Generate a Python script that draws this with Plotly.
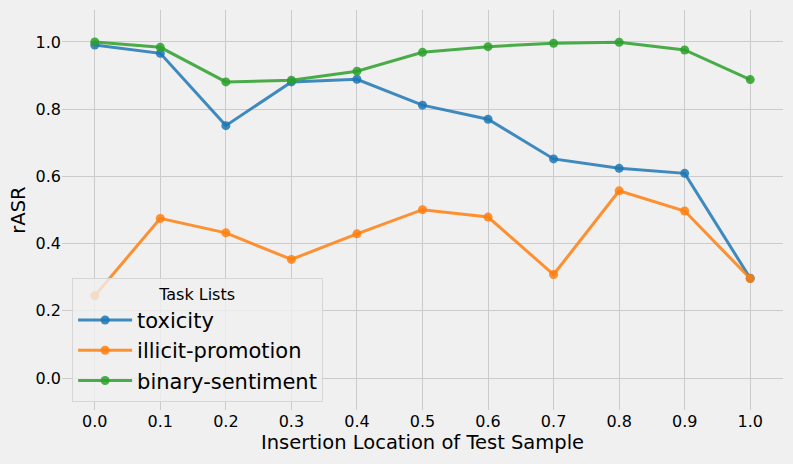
import plotly.graph_objects as go

x_vals = [0.0, 0.1, 0.2, 0.3, 0.4, 0.5, 0.6, 0.7, 0.8, 0.9, 1.0]
toxicity = [0.991, 0.966, 0.751, 0.881, 0.889, 0.812, 0.770, 0.652, 0.624, 0.609, 0.297]
illicit_promotion = [0.245, 0.475, 0.432, 0.353, 0.429, 0.501, 0.479, 0.308, 0.557, 0.497, 0.296]
binary_sentiment = [1.0, 0.984, 0.881, 0.886, 0.913, 0.969, 0.986, 0.996, 0.999, 0.976, 0.888]
x_ticks = [0.0, 0.1, 0.2, 0.3, 0.4, 0.5, 0.6, 0.7, 0.8, 0.9, 1.0]
y_ticks = [0.0, 0.2, 0.4, 0.6, 0.8, 1.0]

series = [
    ("toxicity", toxicity, "rgba(31,119,180,0.85)"),
    ("illicit-promotion", illicit_promotion, "rgba(255,127,14,0.85)"),
    ("binary-sentiment", binary_sentiment, "rgba(44,160,44,0.85)"),
]

fig = go.Figure()
for name, vals, col in series:
    fig.add_trace(go.Scatter(
        x=x_vals, y=vals, name=name, mode="lines+markers",
        line=dict(color=col, width=3),
        marker=dict(color=col, size=9),
    ))

font = "DejaVu Sans, Liberation Sans, sans-serif"
fig.update_layout(
    width=793, height=464,
    margin=dict(l=62, r=10, t=10, b=54),
    paper_bgcolor="#f0f0f0", plot_bgcolor="#f0f0f0",
    font=dict(family=font, size=16, color="#000000"),
    showlegend=True,
    legend=dict(
        title=dict(text="Task Lists", side="top center", font=dict(size=16)),
        font=dict(size=21),
        x=0.014, y=0.02, xanchor="left", yanchor="bottom",
        bgcolor="rgba(240,240,240,0.8)", bordercolor="#d6d6d6", borderwidth=1,
        itemwidth=54, tracegroupgap=0,
    ),
    xaxis=dict(
        range=[-0.05, 1.05], tickvals=x_ticks, ticktext=[f"{v:.1f}" for v in x_ticks],
        showgrid=True, gridcolor="#cbcbcb", gridwidth=1.3, zeroline=False,
        showline=False, ticks="", ticklen=0, automargin=False,
        tickfont=dict(size=16),
        title=dict(text="Insertion Location of Test Sample", font=dict(size=19.5), standoff=4),
    ),
    yaxis=dict(
        range=[-0.095, 1.095], tickvals=y_ticks, ticktext=[f"{v:.1f}" for v in y_ticks],
        showgrid=True, gridcolor="#cbcbcb", gridwidth=1.3, zeroline=False,
        showline=False, ticks="", ticklen=0, automargin=False,
        tickfont=dict(size=16),
        title=dict(text="rASR", font=dict(size=19.5), standoff=4),
    ),
)

fig.write_html("out.html", config={"displayModeBar": False},
               post_script="document.body.style.margin='0px';")
